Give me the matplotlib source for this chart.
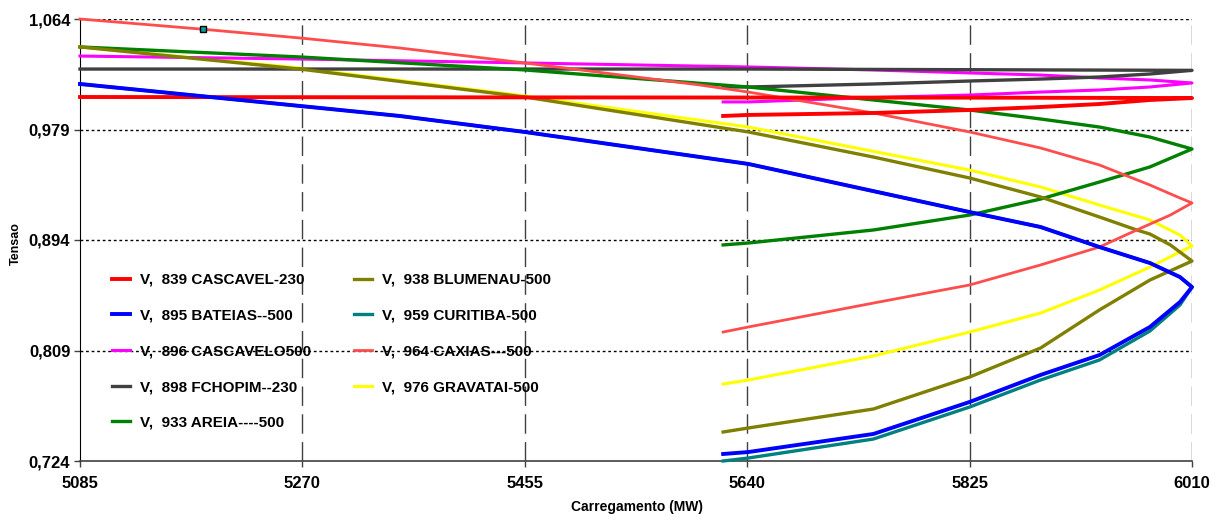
import numpy as np
import matplotlib
matplotlib.use("Agg")
import matplotlib.pyplot as plt

plt.rcParams['font.family'] = ['Liberation Sans', 'DejaVu Sans']

# carregamento (MW) e tensao (pu) - ramo superior e depois ramo inferior da curva PV
p_839 = [5085, 5455, 5825, 6010, 5975, 5933, 5884, 5825, 5745, 5641, 5620]
v_839 = [1.0040, 1.0037, 1.0035, 1.0032, 1.0017, 0.9986, 0.9963, 0.9940, 0.9917, 0.9902, 0.9894]

p_895 = [5085, 5268, 5351, 5455, 5641, 5825, 5884, 5933, 5975, 6000, 6010,
         6000, 5975, 5933, 5884, 5825, 5745, 5641, 5620]
v_895 = [1.0140, 0.9971, 0.9894, 0.9771, 0.9525, 0.9155, 0.9040, 0.8886, 0.8763, 0.8655, 0.8578,
         0.8463, 0.8271, 0.8055, 0.7902, 0.7694, 0.7448, 0.7309, 0.7294]

p_896 = [5085, 5268, 5455, 5641, 5745, 5825, 5884, 5933, 5975, 6010,
         5975, 5933, 5884, 5825, 5745, 5641, 5620]
v_896 = [1.0355, 1.0332, 1.0302, 1.0271, 1.0248, 1.0225, 1.0209, 1.0186, 1.0171, 1.0148,
         1.0117, 1.0094, 1.0078, 1.0055, 1.0036, 1.0002, 1.0002]

p_898 = [5085, 5641, 6010, 5975, 5933, 5884, 5825, 5745, 5641, 5620]
v_898 = [1.0255, 1.0255, 1.0245, 1.0217, 1.0194, 1.0178, 1.0163, 1.0140, 1.0117, 1.0117]

p_933 = [5085, 5268, 5455, 5641, 5745, 5825, 5884, 5933, 5975, 6010,
         5975, 5933, 5884, 5825, 5745, 5641, 5620]
v_933 = [1.0425, 1.0348, 1.0248, 1.0117, 1.0017, 0.9940, 0.9871, 0.9809, 0.9732, 0.9640,
         0.9502, 0.9386, 0.9255, 0.9132, 0.9017, 0.8917, 0.8902]

p_938 = [5085, 5268, 5455, 5641, 5745, 5825, 5884, 5933, 5964, 5975, 5992, 6010,
         5975, 5933, 5884, 5825, 5745, 5641, 5620]
v_938 = [1.0425, 1.0255, 1.0040, 0.9771, 0.9578, 0.9417, 0.9271, 0.9117, 0.9017, 0.8986, 0.8902, 0.8778,
         0.8632, 0.8402, 0.8109, 0.7886, 0.7640, 0.7494, 0.7463]

p_959 = [5085, 5268, 5351, 5455, 5641, 5825, 5884, 5933, 5975, 6000, 6010,
         6000, 5975, 5933, 5884, 5825, 5745, 5641, 5620]
v_959 = [1.0140, 0.9971, 0.9894, 0.9771, 0.9525, 0.9155, 0.9040, 0.8886, 0.8763, 0.8655, 0.8578,
         0.8440, 0.8240, 0.8017, 0.7863, 0.7655, 0.7409, 0.7263, 0.7240]

p_964 = [5085, 5185, 5268, 5351, 5455, 5601, 5641, 5745, 5825, 5884, 5933, 5975, 6000, 6010,
         5992, 5964, 5933, 5884, 5825, 5745, 5641, 5620]
v_964 = [1.0640, 1.0563, 1.0494, 1.0417, 1.0302, 1.0132, 1.0078, 0.9917, 0.9771, 0.9648, 0.9517, 0.9363, 0.9263, 0.9225,
         0.9132, 0.9017, 0.8886, 0.8748, 0.8594, 0.8455, 0.8271, 0.8232]

p_976 = [5085, 5268, 5455, 5641, 5825, 5884, 5933, 5975, 6000, 6010,
         5975, 5933, 5884, 5825, 5745, 5641, 5620]
v_976 = [1.0425, 1.0263, 1.0048, 0.9809, 0.9478, 0.9348, 0.9209, 0.9094, 0.8978, 0.8894,
         0.8732, 0.8555, 0.8378, 0.8232, 0.8048, 0.7863, 0.7832]

xticks = [5085, 5270, 5455, 5640, 5825, 6010]
yticks = [0.724, 0.809, 0.894, 0.979, 1.064]

fig = plt.figure(figsize=(12.22, 5.23), dpi=100)
ax = fig.add_axes([80/1222, 1-461/523, 1112/1222, 442/523])

series = [
    (p_839, v_839, 'V,  839 CASCAVEL-230', '#FF0000', 2.8, 5),
    (p_895, v_895, 'V,  895 BATEIAS--500', '#0000FF', 2.8, 6),
    (p_896, v_896, 'V,  896 CASCAVELO500', '#FF00FF', 2.2, 4),
    (p_898, v_898, 'V,  898 FCHOPIM--230', '#404040', 2.4, 4),
    (p_933, v_933, 'V,  933 AREIA----500', '#008000', 2.4, 4),
    (p_938, v_938, 'V,  938 BLUMENAU-500', '#808000', 2.4, 4),
    (p_959, v_959, 'V,  959 CURITIBA-500', '#008080', 2.4, 3),
    (p_964, v_964, 'V,  964 CAXIAS---500', '#FF4D4D', 2.0, 4),
    (p_976, v_976, 'V,  976 GRAVATAI-500', '#FFFF00', 2.2, 3),
]
for p, v, lab, c, lw, z in series:
    ax.plot(p, v, color=c, lw=lw, label=lab, zorder=z, clip_on=False,
            solid_joinstyle='round')

# marcador do cursor
ax.plot([5187], [1.0563], 's', ms=5, mfc='#00A0A0', mec='black', mew=1, zorder=7)

ax.set_xlim(5085, 6010)
ax.set_ylim(0.724, 1.064)
ax.set_xticks(xticks)
ax.set_yticks(yticks)
ax.set_xticklabels([str(t) for t in xticks])
ax.set_yticklabels([('%.3f' % t).replace('.', ',') for t in yticks])

for t in yticks[1:]:
    ax.axhline(t, color='black', lw=1, ls=(0, (2, 2)), zorder=1)
for t in xticks[1:]:
    ax.axvline(t, color='#404040', lw=1, ls=(0, (14, 6)), zorder=1)

for s in ['top', 'right']:
    ax.spines[s].set_visible(False)
ax.spines['left'].set_color('black')
ax.spines['bottom'].set_color('#404040')
ax.spines['bottom'].set_linewidth(1.2)

ax.tick_params(axis='both', length=4, width=1, color='#404040')
ax.tick_params(axis='x', pad=7)
ax.tick_params(axis='y', pad=3)
for lbl in ax.get_xticklabels() + ax.get_yticklabels():
    lbl.set_fontsize(12)
    lbl.set_fontweight('bold')

fig.text(637/1222, 1-507/523, 'Carregamento (MW)', ha='center', va='center',
         fontsize=10, fontweight='bold')
fig.text(16/1222, 1-244/523, 'Tensao', ha='center', va='center', rotation=90,
         fontsize=9, fontweight='bold')

leg = ax.legend(loc='upper left', bbox_to_anchor=(112/1222, 1-273/523),
                bbox_transform=fig.transFigure, ncol=2, frameon=False,
                prop={'weight': 'bold', 'size': 11},
                handlelength=1.2, handletextpad=0.6, labelspacing=1.42,
                columnspacing=2.85, borderpad=0, borderaxespad=0)

fig.savefig('out.png', dpi=100)
